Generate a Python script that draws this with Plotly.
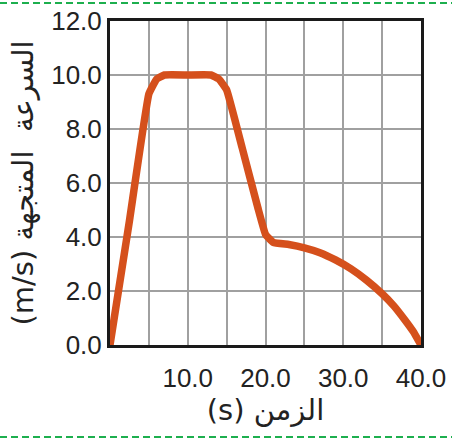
import plotly.graph_objects as go

# Data
time_s = [0, 2.5, 5, 6, 7, 10, 13, 14, 15, 17, 19, 20, 21, 23, 25, 27, 29, 31, 33, 35, 36.5, 38, 39, 40]
speed_ms = [0, 4.6, 9.3, 9.85, 10, 10, 10, 9.85, 9.45, 7.3, 5.1, 4.1, 3.8, 3.72, 3.6, 3.42, 3.15, 2.82, 2.4, 1.9, 1.45, 0.9, 0.5, 0]

x_ticks = [0, 5, 10, 15, 20, 25, 30, 35, 40]
x_ticktext = ["", "", "10.0", "", "20.0", "", "30.0", "", "40.0"]
y_ticks = [0, 2, 4, 6, 8, 10, 12]
y_ticktext = ["0.0", "2.0", "4.0", "6.0", "8.0", "10.0", "12.0"]

x_title = "(s)\u00a0الزمن"
y_title = "(m/s)\u00a0السرعة\u00a0\u00a0المتجهة"

W, H = 452, 440
ML, MR, MT, MB = 110, 31, 21, 95
pw, ph = W - ML - MR, H - MT - MB

fig = go.Figure()
fig.add_trace(go.Scatter(
    x=time_s, y=speed_ms, mode="lines",
    line=dict(color="#D5501C", width=7.5, shape="spline", smoothing=0.3),
    hoverinfo="skip", showlegend=False,
))

font_fam = "Liberation Sans Narrow, Liberation Sans, Arial, sans-serif"
ar_fam = "DejaVu Sans, Liberation Sans, sans-serif"

def py(pix):
    return (H - MB - pix) / ph

def px(pix):
    return (pix - ML) / pw

shapes = []
for ypix in (3, 437):
    shapes.append(dict(type="line", xref="paper", yref="paper",
                       x0=px(0), x1=px(W), y0=py(ypix), y1=py(ypix),
                       line=dict(color="#1DAF4E", width=2, dash="7px,4px")))

fig.update_layout(
    width=W, height=H, autosize=False,
    margin=dict(l=ML, r=MR, t=MT, b=MB, autoexpand=False),
    paper_bgcolor="white", plot_bgcolor="white",
    font=dict(family=font_fam, color="#222222"),
    shapes=shapes,
    xaxis=dict(
        range=[0, 40], tickmode="array", tickvals=x_ticks, ticktext=x_ticktext,
        automargin=False,
        showgrid=True, gridcolor="#A0A0A0", gridwidth=1.5,
        zeroline=False, showline=True, linecolor="#1a1a1a", linewidth=3, mirror=True,
        ticks="outside", ticklen=8, tickcolor="rgba(0,0,0,0)",
        tickfont=dict(size=26, family=font_fam, color="#222222"),
        title=dict(text=x_title, font=dict(size=29, family=ar_fam, color="#222222"), standoff=8),
    ),
    yaxis=dict(
        range=[0, 12], tickmode="array", tickvals=y_ticks, ticktext=y_ticktext,
        automargin=False,
        showgrid=True, gridcolor="#A0A0A0", gridwidth=1.5,
        zeroline=False, showline=True, linecolor="#1a1a1a", linewidth=3, mirror=True,
        ticks="outside", ticklen=0, tickcolor="rgba(0,0,0,0)",
        tickfont=dict(size=26, family=font_fam, color="#222222"),
        title=dict(text=y_title, font=dict(size=29, family=ar_fam, color="#222222"), standoff=10),
    ),
)

fig.write_html("out.html", config={"displayModeBar": False},
               post_script="document.body.style.margin='0';")
